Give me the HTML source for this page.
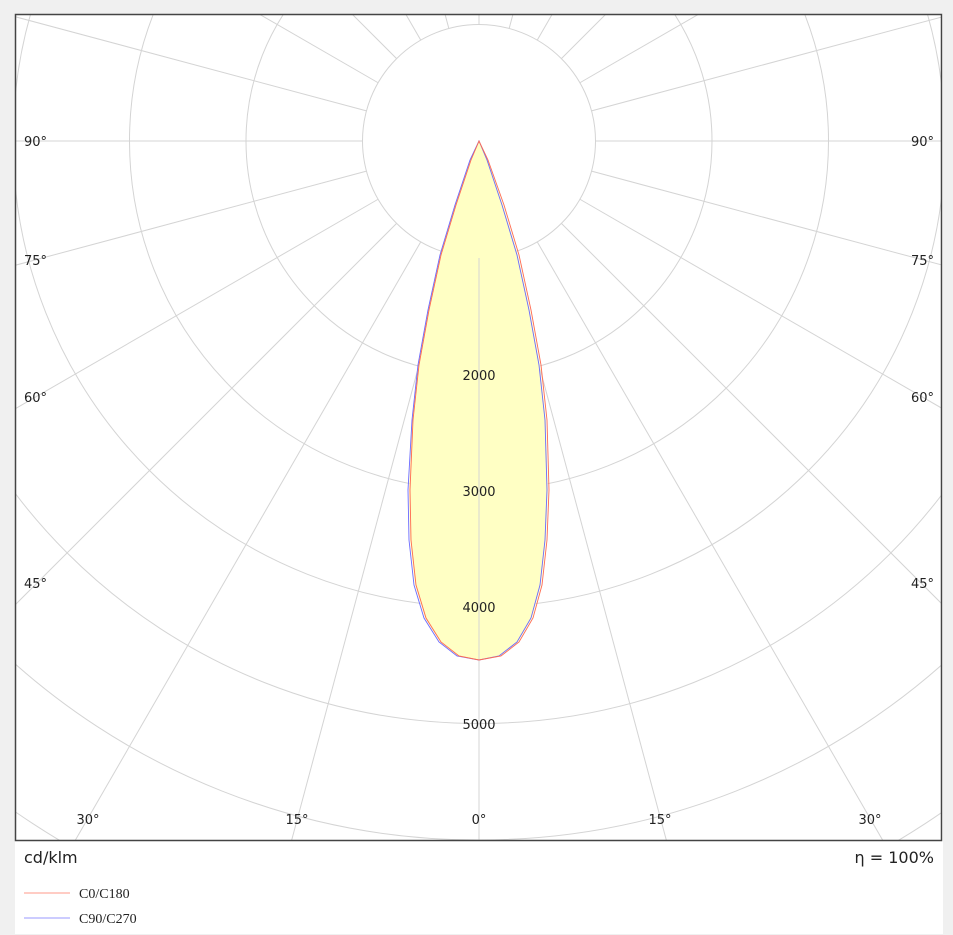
<!DOCTYPE html>
<html><head><style>
html,body{margin:0;padding:0;overflow:hidden}
body{background:#f0f0f0;width:953px;height:935px;position:relative;font-family:"DejaVu Sans","Liberation Sans",sans-serif}
#w{position:absolute;left:15px;top:14px;width:928px;height:920px;background:#fff}
svg{position:absolute;left:0;top:0;display:block}
text{font-size:13px;fill:#222}
</style></head><body>
<div id="w"></div>
<svg width="953" height="934" xmlns="http://www.w3.org/2000/svg">
<defs><clipPath id="c"><rect x="16" y="15" width="925" height="825"/></clipPath></defs>
<g id="grid" clip-path="url(#c)" stroke="#d4d4d4" stroke-width="1" fill="none"></g>
<g clip-path="url(#c)">
<path d="M479,141 L470,160 L455,205 L440,255 L428,310 L418,365 L412,420 L409,490 L410,540 L415,585 L425,618 L440,642 L458,656 L479,660 L500,656 L518,642 L532,618 L541,585 L546,540 L548,490 L546,420 L540,365 L530,310 L518,255 L503,205 L488,160 Z" fill="#ffffc4" stroke="none"/>
<line x1="479" y1="258" x2="479" y2="840" stroke="#d4d4d4"/>
<path d="M479,141 L470,160 L455,205 L440,255 L428,310 L418,365 L412,420 L408,490 L409,540 L414,585 L424,618 L439,642 L457,656 L479,660 L499,656 L517,642 L531,618 L540,585 L545,540 L547,490 L545,420 L539,365 L529,310 L517,255 L502,205 L487,160 Z" fill="none" stroke="#6a6aff" stroke-width="0.9"/>
<path d="M479,141 L471,160 L456,205 L441,255 L429,310 L419,365 L413,420 L410,490 L411,540 L416,585 L426,618 L441,642 L459,656 L479,660 L501,656 L519,642 L533,618 L542,585 L547,540 L549,490 L547,420 L541,365 L531,310 L519,255 L504,205 L488,160 Z" fill="none" stroke="#ff6a50" stroke-width="0.9"/>
</g>
<rect x="15.5" y="14.5" width="926" height="826" fill="none" stroke="#444" stroke-width="1.5"/>
<g text-anchor="middle">
<text x="479" y="380">2000</text><text x="479" y="496">3000</text><text x="479" y="612">4000</text><text x="479" y="729">5000</text>
<text x="88" y="824">30°</text><text x="297" y="824">15°</text><text x="479" y="824">0°</text><text x="660" y="824">15°</text><text x="870" y="824">30°</text>
</g>
<text x="24" y="146">90°</text><text x="24" y="265">75°</text><text x="24" y="402">60°</text><text x="24" y="588">45°</text>
<g text-anchor="end"><text x="934" y="146">90°</text><text x="934" y="265">75°</text><text x="934" y="402">60°</text><text x="934" y="588">45°</text></g>
<text x="24" y="863" style="font-size:16px">cd/klm</text>
<text x="934" y="863" text-anchor="end" style="font-size:16px">η = 100%</text>
<line x1="24" y1="893" x2="70" y2="893" stroke="#ff9a88"/>
<line x1="24" y1="918" x2="70" y2="918" stroke="#9a9aff"/>
<text x="79" y="898" style="font-family:'Liberation Serif',serif;font-size:14px">C0/C180</text>
<text x="79" y="923" style="font-family:'Liberation Serif',serif;font-size:14px">C90/C270</text>
</svg>
<script>
var g=document.getElementById('grid'),cx=479,cy=141,s=116.5,h='';
for(var k=1;k<=10;k++)h+='<circle cx="'+cx+'" cy="'+cy+'" r="'+(s*k)+'"/>';
for(var a=0;a<360;a+=15){if(a==0)continue;var t=a*Math.PI/180,dx=Math.sin(t),dy=Math.cos(t);
h+='<line x1="'+(cx+dx*s)+'" y1="'+(cy+dy*s)+'" x2="'+(cx+dx*1500)+'" y2="'+(cy+dy*1500)+'"/>';}
g.innerHTML=h;
</script>
</body></html>
